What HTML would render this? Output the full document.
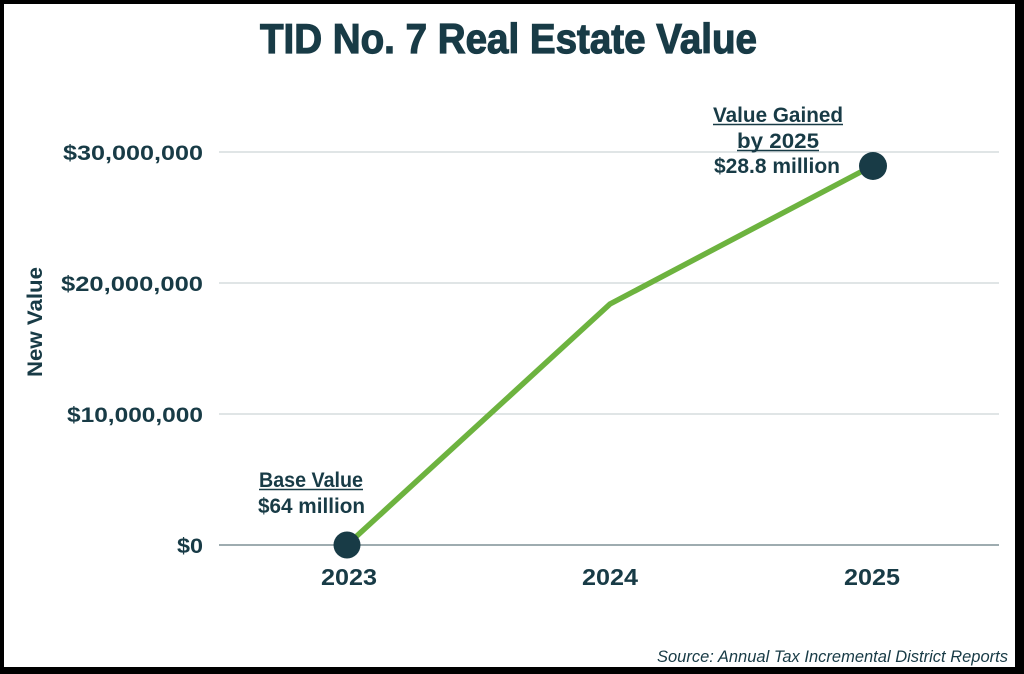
<!DOCTYPE html>
<html><head><meta charset="utf-8"><style>
html,body{margin:0;padding:0;background:#000;}
svg{display:block;}
text{font-family:"Liberation Sans",sans-serif;font-weight:bold;fill:#183b46;}
</style></head><body>
<svg width="1024" height="674" viewBox="0 0 1024 674" xmlns="http://www.w3.org/2000/svg">
<rect x="0" y="0" width="1024" height="674" fill="#000"/>
<rect x="4" y="4" width="1011" height="663" fill="#fff"/>
<text x="260" y="53" font-size="42" textLength="497" lengthAdjust="spacingAndGlyphs" stroke="#183b46" stroke-width="1.2">TID No. 7 Real Estate Value</text>
<line x1="219" y1="152" x2="999" y2="152" stroke="#cdd5d6" stroke-width="1.2"/>
<line x1="219" y1="283" x2="999" y2="283" stroke="#cdd5d6" stroke-width="1.2"/>
<line x1="219" y1="414" x2="999" y2="414" stroke="#cdd5d6" stroke-width="1.2"/>
<line x1="219" y1="545" x2="999" y2="545" stroke="#7f9095" stroke-width="1.4"/>
<text x="203" y="160" font-size="21" text-anchor="end" textLength="140" lengthAdjust="spacingAndGlyphs">$30,000,000</text>
<text x="203" y="291" font-size="21" text-anchor="end" textLength="142" lengthAdjust="spacingAndGlyphs">$20,000,000</text>
<text x="203" y="422" font-size="21" text-anchor="end" textLength="136" lengthAdjust="spacingAndGlyphs">$10,000,000</text>
<text x="203" y="553" font-size="21" text-anchor="end" textLength="26" lengthAdjust="spacingAndGlyphs">$0</text>
<text transform="translate(42,322) rotate(-90)" x="0" y="0" font-size="21" text-anchor="middle" textLength="110" lengthAdjust="spacingAndGlyphs">New Value</text>
<text x="349" y="585" font-size="23" text-anchor="middle" textLength="56" lengthAdjust="spacingAndGlyphs">2023</text>
<text x="610" y="585" font-size="23" text-anchor="middle" textLength="56" lengthAdjust="spacingAndGlyphs">2024</text>
<text x="872" y="585" font-size="23" text-anchor="middle" textLength="56" lengthAdjust="spacingAndGlyphs">2025</text>
<polyline points="347,545 610,304 872,166" fill="none" stroke="#6db33f" stroke-width="5.5" stroke-linejoin="round"/>
<circle cx="347" cy="545" r="13.5" fill="#183b46"/>
<circle cx="873" cy="166" r="14" fill="#183b46"/>
<text x="259" y="487" font-size="21" textLength="104" lengthAdjust="spacingAndGlyphs">Base Value</text>
<line x1="259" y1="489.5" x2="363" y2="489.5" stroke="#183b46" stroke-width="1.5"/>
<text x="258" y="513" font-size="21" textLength="107" lengthAdjust="spacingAndGlyphs">$64 million</text>
<text x="713" y="122" font-size="21" textLength="130" lengthAdjust="spacingAndGlyphs">Value Gained</text>
<line x1="713" y1="124.5" x2="843" y2="124.5" stroke="#183b46" stroke-width="1.5"/>
<text x="737" y="148" font-size="21" textLength="82" lengthAdjust="spacingAndGlyphs">by 2025</text>
<line x1="737" y1="150.5" x2="819" y2="150.5" stroke="#183b46" stroke-width="1.5"/>
<text x="714" y="173" font-size="21" textLength="126" lengthAdjust="spacingAndGlyphs">$28.8 million</text>
<text x="657" y="662" font-size="17" font-style="italic" textLength="351" lengthAdjust="spacingAndGlyphs" style="font-weight:normal">Source: Annual Tax Incremental District Reports</text>
</svg>
</body></html>
